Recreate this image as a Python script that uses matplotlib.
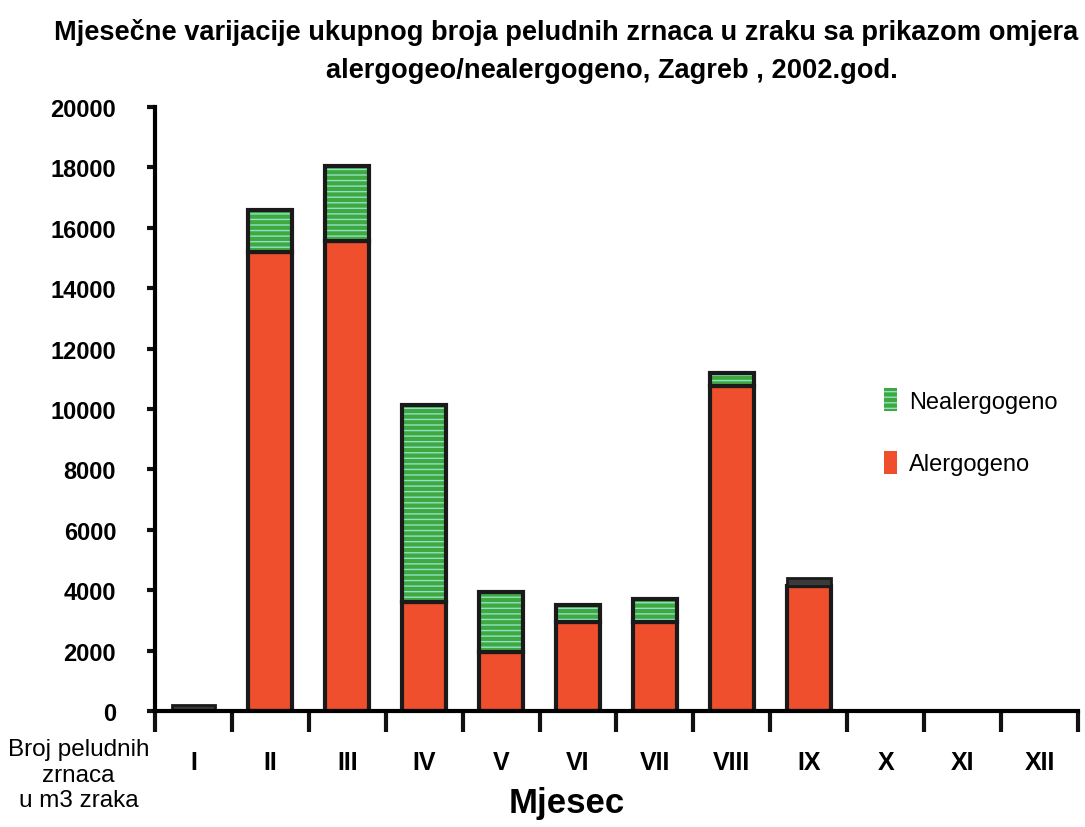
import matplotlib
matplotlib.use('Agg')
import matplotlib.pyplot as plt
import numpy as np

# data (pollen grains per m3 of air)
months = ['I', 'II', 'III', 'IV', 'V', 'VI', 'VII', 'VIII', 'IX', 'X', 'XI', 'XII']
alergogeno = [0, 15200, 15550, 3600, 1950, 2950, 2950, 10750, 4150, 0, 0, 0]
nealergogeno = [0, 1400, 2500, 6550, 2000, 550, 750, 450, 0, 0, 0, 0]
ostalo = [200, 0, 0, 0, 0, 0, 0, 0, 250, 0, 0, 0]

title1 = 'Mjesečne varijacije ukupnog broja peludnih zrnaca u zraku sa prikazom omjera'
title2 = 'alergogeo/nealergogeno, Zagreb , 2002.god.'

plt.rcParams['font.family'] = ['Liberation Sans', 'DejaVu Sans']
plt.rcParams['hatch.linewidth'] = 1.0

red = '#ef4f2c'
green = '#3fa93f'
stripe = '#8fe0c8'
dark = '#3a3a3a'
edge = '#1a1a1a'

fig = plt.figure(figsize=(10.85, 8.28), dpi=100)
ax = fig.add_axes([0.1429, 0.140, 0.8506, 0.7295])

x = np.arange(len(months))
w = 0.57
al = np.array(alergogeno, dtype=float)
ne = np.array(nealergogeno, dtype=float)
ot = np.array(ostalo, dtype=float)

# only months with data get a bar
m = (al + ne + ot) > 0
xs = x[m]

ax.bar(xs, al[m], w, color=red, edgecolor=edge, linewidth=3, label='Alergogeno')
ax.bar(xs, ne[m], w, bottom=al[m], color=green, edgecolor=stripe, linewidth=0,
       hatch='---', label='Nealergogeno')
ax.bar(xs, ne[m], w, bottom=al[m], fill=False, edgecolor=edge, linewidth=3)
ax.bar(xs, ot[m], w, bottom=(al + ne)[m], color=dark, edgecolor=edge, linewidth=2)

ax.set_xlim(-0.5, 11.5)
ax.set_ylim(0, 20000)
ax.set_yticks(np.arange(0, 20001, 2000))
ax.set_yticklabels([str(v) for v in range(0, 20001, 2000)], fontsize=17, fontweight='bold')
ax.tick_params(axis='y', length=6, width=3, pad=22, color='#111111')

ax.set_xticks(np.arange(-0.5, 12, 1))
ax.set_xticklabels([])
ax.set_xticks(x, minor=True)
ax.set_xticklabels(months, minor=True, fontsize=18, fontweight='bold')
ax.tick_params(axis='x', which='major', length=15, width=3, color='#111111')
ax.tick_params(axis='x', which='minor', length=0, pad=28)

for s in ['top', 'right']:
    ax.spines[s].set_visible(False)
ax.spines['left'].set_linewidth(3)
ax.spines['bottom'].set_linewidth(3)

ax.text(-0.083, -0.045, 'Broj peludnih\nzrnaca\nu m3 zraka', transform=ax.transAxes,
        ha='center', va='top', fontsize=17.5, ma='center', linespacing=1.2)
ax.text(0.446, -0.124, 'Mjesec', transform=ax.transAxes, ha='center', va='top',
        fontsize=25, fontweight='bold')

handles, labels = ax.get_legend_handles_labels()
leg = ax.legend(handles[::-1], labels[::-1], loc='upper left', bbox_to_anchor=(0.767, 0.57),
                frameon=False, fontsize=17, handlelength=0.55, handleheight=1.15,
                labelspacing=1.6, handletextpad=0.5)
for h in leg.legend_handles:
    h.set_linewidth(0)

fig.text(566 / 1085, 1 - 32 / 828, title1, ha='center', va='center', fontsize=19.6,
         fontweight='bold')
fig.text(612 / 1085, 1 - 71 / 828, title2, ha='center', va='center', fontsize=19.6,
         fontweight='bold')

fig.savefig('out.png', dpi=100, facecolor='white')
